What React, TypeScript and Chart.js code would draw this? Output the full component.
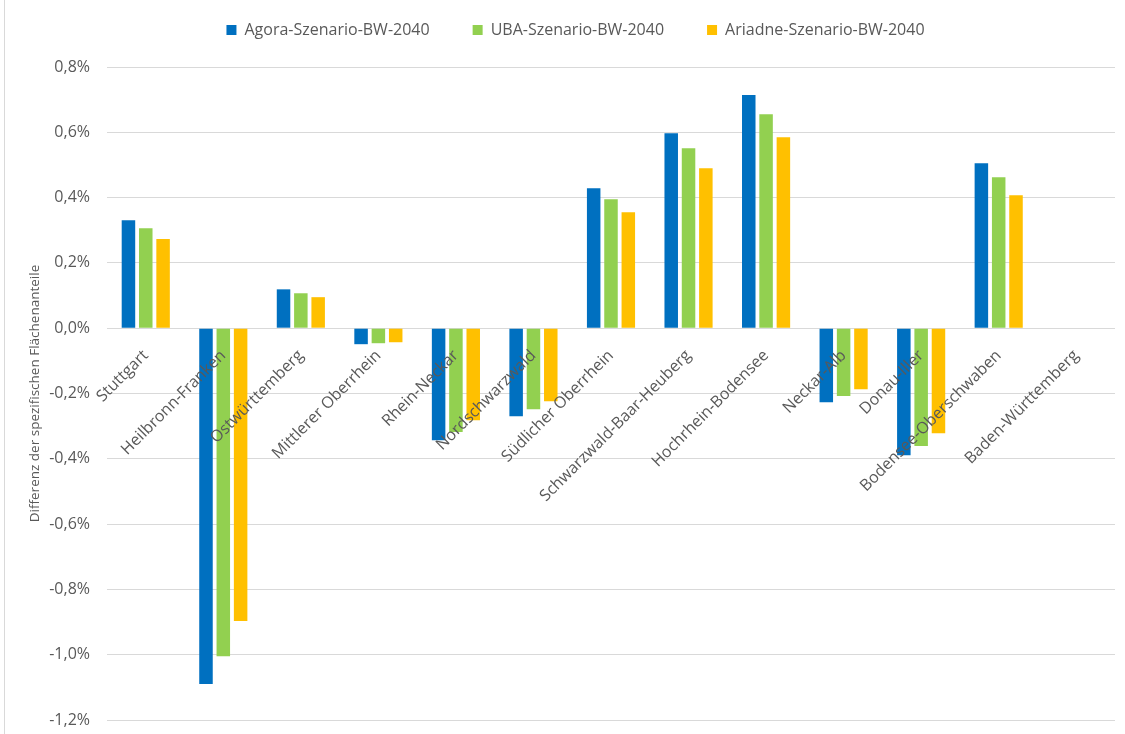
import React, { useEffect, useRef } from 'react';
import { Chart, registerables } from 'chart.js';

Chart.register(...registerables);

const categories = [
  'Stuttgart',
  'Heilbronn-Franken',
  'Ostwürttemberg',
  'Mittlerer Oberrhein',
  'Rhein-Neckar',
  'Nordschwarzwald',
  'Südlicher Oberrhein',
  'Schwarzwald-Baar-Heuberg',
  'Hochrhein-Bodensee',
  'Neckar-Alb',
  'Donau-Iller',
  'Bodensee-Oberschwaben',
  'Baden-Württemberg',
];

const seriesNames = ['Agora-Szenario-BW-2040', 'UBA-Szenario-BW-2040', 'Ariadne-Szenario-BW-2040'];

const agoraValues = [0.331, -1.09, 0.119, -0.049, -0.343, -0.27, 0.429, 0.597, 0.714, -0.227, -0.389, 0.505, null];
const ubaValues = [0.306, -1.005, 0.107, -0.046, -0.318, -0.248, 0.395, 0.551, 0.655, -0.208, -0.361, 0.462, null];
const ariadneValues = [0.273, -0.897, 0.095, -0.043, -0.282, -0.224, 0.355, 0.49, 0.585, -0.187, -0.322, 0.407, null];

const seriesColors = ['#0070C0', '#92D050', '#FFC000'];

const yMin = -1.2;
const yMax = 0.8;
const yStep = 0.2;
const yTitle = 'Differenz der spezifischen Flächenanteile';

const FONT = '"Open Sans", "Noto Sans", sans-serif';
const TEXT = '#595959';

const legendShift = {
  id: 'legendShift',
  afterLayout(chart: any) {
    const lg = chart.legend;
    if (!lg) return;
    const pad = lg.options.labels.padding;
    const newTop = 22 - pad;
    const dy = newTop - lg.top;
    lg.top += dy;
    lg.bottom += dy;
    lg.left += 18;
    lg.right += 18;
  },
};

export default function App() {
  const ref = useRef<HTMLCanvasElement | null>(null);

  useEffect(() => {
    if (!ref.current) return;
    const allValues = [agoraValues, ubaValues, ariadneValues];
    const chart = new Chart(ref.current, {
      type: 'bar',
      data: {
        labels: categories,
        datasets: allValues.map((vals, i) => ({
          label: seriesNames[i],
          data: vals,
          backgroundColor: seriesColors[i],
          borderWidth: 0,
          categoryPercentage: 0.67,
          barPercentage: 0.78,
        })),
      },
      plugins: [legendShift],
      options: {
        animation: false,
        responsive: false,
        maintainAspectRatio: false,
        layout: { padding: { top: -2, bottom: 14, left: 0, right: 10 } },
        plugins: {
          legend: {
            position: 'top',
            labels: {
              boxWidth: 10,
              boxHeight: 10,
              padding: 43,
              color: TEXT,
              font: { family: FONT, size: 16 },
            },
          },
          tooltip: { enabled: false },
        },
        scales: {
          x: {
            position: { y: 0 } as any,
            grid: { display: false },
            border: { display: false },
            ticks: {
              z: 1,
              autoSkip: false,
              minRotation: 45,
              maxRotation: 45,
              padding: 10,
              color: TEXT,
              font: { family: FONT, size: 16 },
            },
          },
          y: {
            min: yMin,
            max: yMax,
            grid: { color: '#D9D9D9', lineWidth: 1, drawTicks: true, tickLength: 14, tickColor: 'rgba(0,0,0,0)' },
            border: { display: false },
            afterFit(scale: any) {
              scale.width = 107;
            },
            ticks: {
              stepSize: yStep,
              padding: 3,
              color: TEXT,
              font: { family: FONT, size: 16 },
              callback: (v: any) => {
                const n = Math.round(Number(v) * 10) / 10;
                return (n === 0 ? '0.0' : n.toFixed(1)).replace('.', ',') + '%';
              },
            },
            title: {
              display: true,
              text: yTitle,
              color: TEXT,
              font: { family: FONT, size: 13.5 },
              padding: { top: 27, bottom: 0 },
            },
          },
        },
      },
    });
    return () => chart.destroy();
  }, []);

  return (
    <div style={{ position: 'absolute', left: 0, top: 0, width: 1125, height: 734, background: '#fff' }}>
      <div style={{ position: 'absolute', left: 4, top: 0, width: 1, height: 734, background: '#D9D9D9' }} />
      <canvas ref={ref} width={1125} height={734} style={{ position: 'absolute', left: 0, top: 0, width: 1125, height: 734 }} />
    </div>
  );
}
